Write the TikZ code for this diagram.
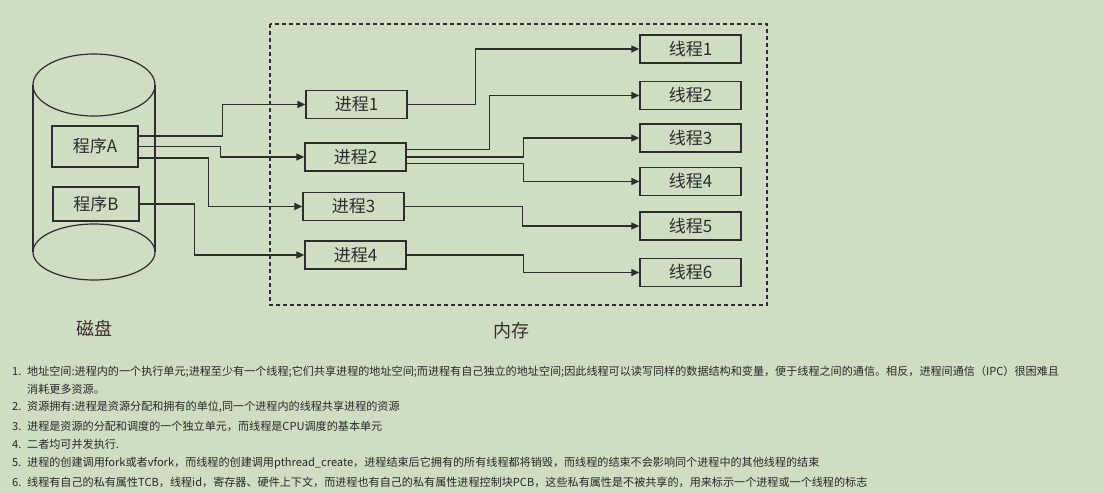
\documentclass[tikz,border=0pt]{standalone}
\usepackage{fontspec}
\setmainfont{Noto Sans CJK SC}
\usetikzlibrary{arrows.meta,positioning}
\definecolor{bgGreen}{RGB}{205,222,194}
\definecolor{lineGray}{RGB}{45,45,45}
\definecolor{labelBrown}{RGB}{62,42,46}
\definecolor{noteGray}{RGB}{40,40,40}
\tikzset{
    box/.style = {
        draw = lineGray,
        line width = 1.3pt,
        inner sep = 0pt,
        text = lineGray,
        font = \fontsize{17}{17}\selectfont,
        },
    prog box/.style = {
        box,
        minimum width = 86pt,
        },
    proc box/.style = {
        box,
        minimum width = 101pt,
        minimum height = 28pt,
        },
    thread box/.style = {
        box,
        minimum width = 101pt,
        minimum height = 28pt,
        },
    link/.style = {
        draw = lineGray,
        line width = 1.25pt,
        -{Triangle[length=8pt,width=7pt]},
        },
    place label/.style = {
        text = labelBrown,
        font = \fontsize{18}{18}\selectfont,
        },
    note/.style = {
        anchor = west,
        inner sep = 0pt,
        text = noteGray,
        font = \fontsize{11.1}{12}\selectfont,
        },
}

\begin{document}
\begin{tikzpicture}[x=1pt, y=-1pt]
            \useasboundingbox[fill=bgGreen] (0,0) rectangle (1104,493);

            % disk
            \draw[lineGray, line width=1.2pt] (94,85) ellipse [x radius=61, y radius=31];
            \draw[lineGray, line width=1.2pt] (94,252) ellipse [x radius=61, y radius=28];
            \draw[lineGray, line width=1.2pt] (33,85) -- (33,252);
            \draw[lineGray, line width=1.2pt] (155,85) -- (155,252);
            % memory
            \draw[lineGray, line width=1.2pt, dash pattern=on 4pt off 3pt] (270,24) rectangle (767,305);

            \node[prog box, minimum height=41pt] (progA) at (95,146.5) {程序A};
            \node[prog box, minimum height=34pt] (progB) at (96,204) {程序B};

            \node[proc box] (proc1) at (356.5,104.5) {进程1};
            \node[proc box] (proc2) at (355.5,157) {进程2};
            \node[proc box] (proc3) at (353.5,206.5) {进程3};
            \node[proc box] (proc4) at (355.5,255) {进程4};

            \node[thread box] (thr1) at (690.5,49) {线程1};
            \node[thread box] (thr2) at (690.5,95.5) {线程2};
            \node[thread box] (thr3) at (690.5,138) {线程3};
            \node[thread box] (thr4) at (690.5,181.5) {线程4};
            \node[thread box] (thr5) at (690.5,226) {线程5};
            \node[thread box] (thr6) at (690.5,272.5) {线程6};

            \node[place label] (disk) at (94,328) {磁盘};
            \node[place label] (mem) at (511,331) {内存};

            \draw[link] ([yshift=10.5pt]progA.east) -- ++(84,0) |- (proc1.west);
            \draw[link] (progA.east) -- ++(82,0) |- (proc2.west);
            \draw[link] ([yshift=-11.5pt]progA.east) -- ++(70,0) |- (proc3.west);
            \draw[link] (progB.east) -- ++(55,0) |- (proc4.west);

            \draw[link] (proc1.east) -- ++(68,0) |- (thr1.west);
            \draw[link] ([yshift=7.5pt]proc2.east) -- ++(83,0) |- (thr2.west);
            \draw[link] (proc2.east) -- ++(117,0) |- (thr3.west);
            \draw[link] ([yshift=-6.5pt]proc2.east) -- ++(117,0) |- (thr4.west);
            \draw[link] (proc3.east) -- ++(118,0) |- (thr5.west);
            \draw[link] (proc4.east) -- ++(117,0) |- (thr6.west);

            \node[note] (note1) at (12,372) {\makebox[15pt][l]{1.}地址空间:进程内的一个执行单元;进程至少有一个线程;它们共享进程的地址空间;而进程有自己独立的地址空间;因此线程可以读写同样的数据结构和变量，便于线程之间的通信。相反，进程间通信（IPC）很困难且};
            \node[note] (note1b) at (27,389) {消耗更多资源。};
            \node[note] (note2) at (12,407) {\makebox[15pt][l]{2.}资源拥有:进程是资源分配和拥有的单位,同一个进程内的线程共享进程的资源};
            \node[note] (note3) at (12,426) {\makebox[15pt][l]{3.}进程是资源的分配和调度的一个独立单元，而线程是CPU调度的基本单元};
            \node[note] (note4) at (12,444) {\makebox[15pt][l]{4.}二者均可并发执行.};
            \node[note] (note5) at (12,463) {\makebox[15pt][l]{5.}进程的创建调用fork或者vfork，而线程的创建调用pthread\_create，进程结束后它拥有的所有线程都将销毁，而线程的结束不会影响同个进程中的其他线程的结束};
            \node[note] (note6) at (12,482) {\makebox[15pt][l]{6.}线程有自己的私有属性TCB，线程id，寄存器、硬件上下文，而进程也有自己的私有属性进程控制块PCB，这些私有属性是不被共享的，用来标示一个进程或一个线程的标志};
\end{tikzpicture}
\end{document}
